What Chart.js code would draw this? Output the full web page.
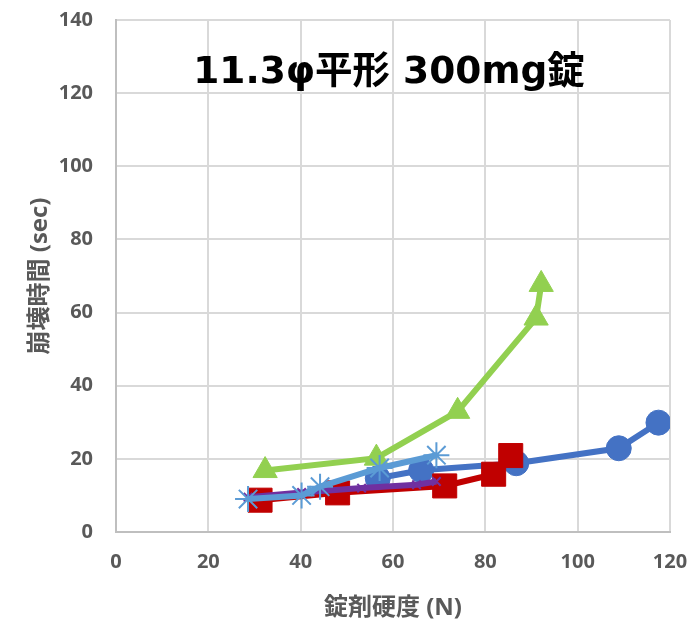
<!DOCTYPE html>
<html>
<head>
<meta charset="utf-8">
<script src="https://cdn.jsdelivr.net/npm/chart.js@4/dist/chart.umd.min.js"></script>
<style>
  html, body { margin: 0; padding: 0; background: #ffffff; }
  #wrap { width: 694px; height: 620px; }
</style>
</head>
<body>
<div id="wrap"><canvas id="c" width="694" height="620"></canvas></div>
<script>
// Hardness (N) vs disintegration time (sec), one list per formulation
const titleText = '11.3φ平形 300mg錠';
const xTitle = '錠剤硬度 (N)';
const yTitle = '崩壊時間 (sec)';

const xTicks = [0, 20, 40, 60, 80, 100, 120];
const yTicks = [0, 20, 40, 60, 80, 100, 120, 140];

const blueX = [56.7, 66.1, 86.7, 108.9, 117.5];
const blueY = [14.7, 16.9, 18.8, 22.9, 29.9];

const redX = [31.2, 48.0, 71.2, 81.8, 85.5];
const redY = [8.7, 10.7, 12.6, 15.8, 20.9];

const greenX = [32.3, 56.4, 74.0, 91.0, 92.1];
const greenY = [16.8, 20.2, 33.0, 58.5, 67.7];

const skyX = [28.6, 40.2, 44.2, 57.1, 69.4];
const skyY = [9.0, 10.0, 12.4, 17.5, 21.0];

const purpleX = [28.6, 40.2, 53.2, 65.1, 69.4];
const purpleY = [9.5, 10.8, 12.0, 12.9, 13.8];

function pts(xs, ys) { return xs.map((x, i) => ({ x: x, y: ys[i] })); }

const GRID = '#d9d9d9';
const TEXT = '#595959';
const latin = '"Open Sans", "Noto Sans CJK JP", sans-serif';

// Title drawn inside the plotting area, over the gridlines
const innerTitle = {
  id: 'innerTitle',
  afterDraw(chart) {
    const { ctx, chartArea } = chart;
    ctx.save();
    ctx.font = 'bold 37.5px "DejaVu Sans", "Noto Sans CJK JP", sans-serif';
    ctx.fillStyle = '#000000';
    ctx.textAlign = 'center';
    ctx.textBaseline = 'middle';
    ctx.fillText(titleText, (chartArea.left + chartArea.right) / 2 - 4, chartArea.top + 53);
    ctx.restore();
  }
};

function series(label, xs, ys, color, style, radius, extra) {
  return Object.assign({
    label: label,
    data: pts(xs, ys),
    showLine: true,
    borderColor: color,
    backgroundColor: color,
    borderWidth: 6,
    pointStyle: style,
    pointRadius: radius,
    pointHoverRadius: radius,
    pointBackgroundColor: color,
    pointBorderColor: color,
    pointBorderWidth: 1,
    tension: 0
  }, extra || {});
}

new Chart(document.getElementById('c'), {
  type: 'scatter',
  data: {
    datasets: [
      series('E', skyX, skyY, '#5B9BD5', 'star', 13, { pointBorderWidth: 2 }),
      series('C', greenX, greenY, '#92D050', 'triangle', 14),
      series('D', purpleX, purpleY, '#7030A0', 'crossRot', 6, { pointBorderWidth: 2 }),
      series('B', redX, redY, '#C00000', 'rect', 17),
      series('A', blueX, blueY, '#4472C4', 'circle', 12.5)
    ]
  },
  plugins: [innerTitle],
  options: {
    responsive: false,
    animation: false,
    devicePixelRatio: 1,
    layout: { padding: { left: 22, right: 24, top: 20, bottom: 2 } },
    plugins: {
      legend: { display: false },
      tooltip: { enabled: false },
      title: { display: false }
    },
    scales: {
      x: {
        type: 'linear',
        min: 0, max: 120,
        afterBuildTicks(scale) { scale.ticks = xTicks.map(v => ({ value: v })); },
        afterFit(scale) { scale.height = 86; scale.paddingLeft = 0; scale.paddingRight = 0; },
        grid: { color: GRID, lineWidth: 2, drawTicks: false },
        border: { color: '#bfbfbf', width: 2 },
        ticks: { color: TEXT, font: { family: latin, size: 20, weight: 'bold' }, padding: 18 },
        title: { display: true, text: xTitle, color: TEXT, font: { family: latin, size: 24, weight: 'bold' }, padding: { top: 0, bottom: -5 } }
      },
      y: {
        type: 'linear',
        min: 0, max: 140,
        afterBuildTicks(scale) { scale.ticks = yTicks.map(v => ({ value: v })); },
        afterFit(scale) { scale.width = 94; scale.paddingTop = 0; scale.paddingBottom = 0; },
        grid: { color: GRID, lineWidth: 2, drawTicks: false },
        border: { color: '#bfbfbf', width: 2 },
        ticks: { color: TEXT, font: { family: latin, size: 20, weight: 'bold' }, padding: 23 },
        title: { display: true, text: yTitle, color: TEXT, font: { family: latin, size: 24, weight: 'bold' }, padding: { bottom: 4 } }
      }
    }
  }
});
</script>
</body>
</html>
